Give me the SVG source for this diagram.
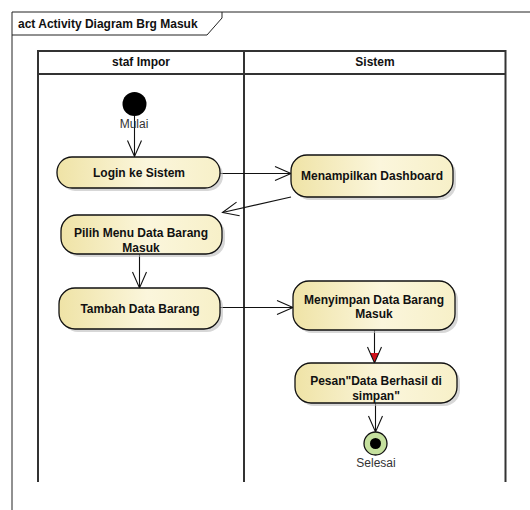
<svg xmlns="http://www.w3.org/2000/svg" width="530" height="510" viewBox="0 0 530 510">
  <defs>
    <linearGradient id="actFill" x1="0" y1="0" x2="1" y2="0">
      <stop offset="0" stop-color="#EFE3A6"/>
      <stop offset="0.55" stop-color="#FBF6DC"/>
      <stop offset="1" stop-color="#F7F0C8"/>
    </linearGradient>
    <marker id="open" markerUnits="userSpaceOnUse" markerWidth="18" markerHeight="16" refX="16" refY="7" orient="auto" overflow="visible">
      <path d="M0,0 L16,7 L0,14" fill="none" stroke="#111" stroke-width="1.1"/>
    </marker>
    <marker id="openSel" markerUnits="userSpaceOnUse" markerWidth="18" markerHeight="16" refX="16" refY="7" orient="auto" overflow="visible">
      <path d="M6,2.6 L16,7 L6,11.4 Z" fill="#D0101A"/>
      <path d="M0,0 L16,7 L0,14" fill="none" stroke="#111" stroke-width="1.1"/>
    </marker>
  </defs>
  <style>
    text { font-family: "Liberation Sans", Arial, sans-serif; }
    .frame { fill: none; stroke: #222; stroke-width: 1; }
    .lane { fill: none; stroke: #333; stroke-width: 2; }
    .hdr { font-size: 12px; font-weight: bold; fill: #111; text-anchor: middle; }
    .title { font-size: 12px; font-weight: bold; fill: #111; }
    .act { fill: url(#actFill); stroke: #111; stroke-width: 1.3; }
    .shadow { fill: #BDBDBD; opacity: 0.6; }
    .lbl { font-size: 12px; font-weight: bold; fill: #111; text-anchor: middle; }
    .cap { font-size: 12px; fill: #333; text-anchor: middle; }
    .flow { fill: none; stroke: #111; stroke-width: 1.1; marker-end: url(#open); }
  </style>

  <rect width="530" height="510" fill="#fff"/>

  <!-- diagram frame with name tab -->
  <g id="frame">
    <path class="frame" d="M12,510 V12 H530"/>
    <path class="frame" d="M12,35 H207 L222,18 V12"/>
    <text class="title" x="18" y="28">act Activity Diagram Brg Masuk</text>
  </g>

  <!-- swimlanes -->
  <g id="lanes">
    <path class="lane" d="M38,482 V51 H505.5 V482"/>
    <path class="lane" d="M38,74 H505.5"/>
    <path class="lane" d="M244,51 V482"/>
    <text class="hdr" x="141" y="66">staf Impor</text>
    <text class="hdr" x="375" y="66">Sistem</text>
  </g>

  <!-- connectors -->
  <g id="connectors">
    <path class="flow" d="M134.5,116 V156.5"/>
    <path class="flow" d="M220,173.5 H291"/>
    <path class="flow" d="M291,197 L222.5,212.5"/>
    <path class="flow" d="M139.5,254 V288"/>
    <path class="flow" d="M220,307.5 H293"/>
    <path class="flow" d="M374.5,330 V363" style="marker-end:url(#openSel)"/>
    <path class="flow" d="M375.5,403 V432"/>
  </g>

  <g id="start">
    <circle cx="134.5" cy="104" r="12" fill="#000"/>
    <text class="cap" x="134" y="128">Mulai</text>
  </g>

  <g id="login">
    <rect class="shadow" x="60" y="160" width="163" height="31" rx="15"/>
    <rect class="act" x="57" y="157" width="163" height="31" rx="15"/>
    <text class="lbl" x="139" y="177">Login ke Sistem</text>
  </g>

  <g id="dashboard">
    <rect class="shadow" x="294" y="158" width="162" height="42" rx="16"/>
    <rect class="act" x="291" y="155" width="162" height="42" rx="16"/>
    <text class="lbl" x="372" y="180">Menampilkan Dashboard</text>
  </g>

  <g id="pilihMenu">
    <rect class="shadow" x="64" y="218" width="161" height="39" rx="16"/>
    <rect class="act" x="61" y="215" width="161" height="39" rx="16"/>
    <text class="lbl" x="141" y="237">Pilih Menu Data Barang</text>
    <text class="lbl" x="141" y="252">Masuk</text>
  </g>

  <g id="tambahData">
    <rect class="shadow" x="62" y="291" width="161" height="41" rx="16"/>
    <rect class="act" x="59" y="288" width="161" height="41" rx="16"/>
    <text class="lbl" x="140" y="313">Tambah Data Barang</text>
  </g>

  <g id="menyimpan">
    <rect class="shadow" x="296" y="284" width="162" height="49" rx="16"/>
    <rect class="act" x="293" y="281" width="162" height="49" rx="16"/>
    <text class="lbl" x="374" y="304">Menyimpan Data Barang</text>
    <text class="lbl" x="374" y="318">Masuk</text>
  </g>

  <g id="pesan">
    <rect class="shadow" x="298" y="366" width="162" height="40" rx="16"/>
    <rect class="act" x="295" y="363" width="162" height="40" rx="16"/>
    <text class="lbl" x="376" y="385">Pesan"Data Berhasil di</text>
    <text class="lbl" x="376" y="400">simpan"</text>
  </g>

  <g id="end">
    <circle cx="375.5" cy="443.5" r="11.5" fill="#C5E09E" stroke="#111" stroke-width="1.3"/>
    <circle cx="375.5" cy="443.5" r="5.5" fill="#000"/>
    <text class="cap" x="376" y="467">Selesai</text>
  </g>
</svg>
